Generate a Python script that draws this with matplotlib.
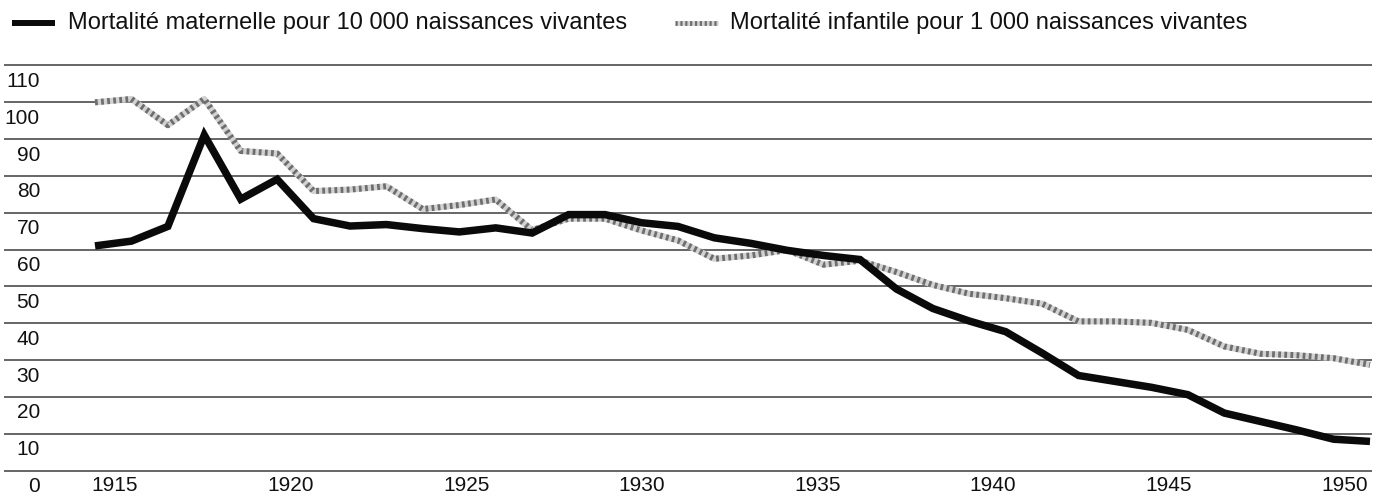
import numpy as np
import matplotlib
matplotlib.use("Agg")
import matplotlib.pyplot as plt
from matplotlib.lines import Line2D
import matplotlib.transforms as mtransforms

plt.rcParams['font.family'] = ['Liberation Sans', 'DejaVu Sans']

# ---- data -------------------------------------------------------------
years = list(range(1915, 1951))
maternelle = [61.0, 62.3, 66.3, 91.1, 73.7, 79.1, 68.4, 66.4, 66.8, 65.7,
              64.8, 65.9, 64.5, 69.5, 69.5, 67.3, 66.3, 63.2, 61.7, 59.8,
              58.4, 57.3, 49.3, 44.0, 40.6, 37.7, 31.9, 25.8, 24.2, 22.6,
              20.6, 15.6, 13.3, 11.0, 8.5, 7.9]
infantile = [100.0, 100.9, 93.8, 100.9, 86.8, 86.1, 75.9, 76.3, 77.2, 71.0,
             72.1, 73.6, 65.3, 68.4, 68.4, 65.2, 62.5, 57.5, 58.4, 59.9,
             55.9, 57.0, 53.9, 50.4, 48.0, 46.8, 45.3, 40.5, 40.5, 40.1,
             38.2, 33.7, 31.7, 31.3, 30.5, 28.7]
y_ticks = [0, 10, 20, 30, 40, 50, 60, 70, 80, 90, 100, 110]
x_labels = ['1915', '1920', '1925', '1930', '1935', '1940', '1945', '1950']
label_legend_mat = "Mortalité maternelle pour 10 000 naissances vivantes"
label_legend_inf = "Mortalité infantile pour 1 000 naissances vivantes"

# ---- figure -----------------------------------------------------------
W, H = 1376, 498
fig = plt.figure(figsize=(W / 100, H / 100), dpi=100)
fig.patch.set_facecolor('white')

px_per_unit = (470.5 - 65.5) / 110.0
ax_bottom_px = 470.5 + px_per_unit
ax_top_px = 65.5 - px_per_unit
ax = fig.add_axes([4 / W, (H - ax_bottom_px) / H, (1372 - 4) / W,
                   (ax_bottom_px - ax_top_px) / H])
ax.set_ylim(-1, 111)
px_per_year = (1370 - 95) / 35.0
ax.set_xlim(1915 - (95 - 4) / px_per_year, 1950 + (1372 - 1370) / px_per_year)
for s in ax.spines.values():
    s.set_visible(False)

ax.set_yticks(y_ticks)
ax.set_yticklabels([])
ax.tick_params(axis='y', length=0)
ax.grid(axis='y', color='#3c3c3c', lw=1.1)
ax.set_axisbelow(True)

# infant mortality: textured grey line
ax.plot(years, infantile, color='#d2d2d2', lw=4.4, solid_capstyle='butt',
        solid_joinstyle='round', zorder=3)
ax.plot(years, infantile, color='#555555', lw=4.4, dashes=(0.45, 0.55),
        dash_capstyle='butt', solid_joinstyle='round', zorder=4, alpha=0.8)
# maternal mortality: thick black line
ax.plot(years, maternelle, color='#0a0a0a', lw=5.4, solid_capstyle='butt',
        solid_joinstyle='miter', zorder=5)

# y labels sit just below each grid line, inside the plot
trans = mtransforms.blended_transform_factory(fig.transFigure, ax.transData)
trans = mtransforms.offset_copy(trans, fig=fig, y=-16, units='dots')
for v in y_ticks:
    ax.text(40 / W, v, str(v), transform=trans, ha='right', va='center',
            fontsize=15, color='#111111')

# x tick labels (placed as in the original print)
label_first_px, label_step_px = 115, 175.6
tick_pos = [1915 + (label_first_px + i * label_step_px - 95) / px_per_year
            for i in range(len(x_labels))]
ax.set_xticks(tick_pos)
ax.set_xticklabels(x_labels, fontsize=15, color='#111111')
ax.tick_params(axis='x', length=0, pad=1)

# legend drawn at the top
yl = 1 - 23.5 / H
fig.add_artist(Line2D([12 / W, 55 / W], [1 - 23 / H] * 2, transform=fig.transFigure,
                      color='#0a0a0a', lw=4.3, solid_capstyle='butt'))
fig.text(68 / W, yl, label_legend_mat, ha='left', va='center', fontsize=17,
         color='#111111')
fig.add_artist(Line2D([675 / W, 718 / W], [1 - 23 / H] * 2, transform=fig.transFigure,
                      color='#d2d2d2', lw=3.5, solid_capstyle='butt'))
fig.add_artist(Line2D([675 / W, 718 / W], [1 - 23 / H] * 2, transform=fig.transFigure,
                      color='#555555', lw=3.5, dashes=(0.45, 0.55),
                      dash_capstyle='butt', alpha=0.8))
fig.text(730 / W, yl, label_legend_inf, ha='left', va='center', fontsize=17,
         color='#111111')

fig.savefig('out.png', dpi=100, facecolor='white')
